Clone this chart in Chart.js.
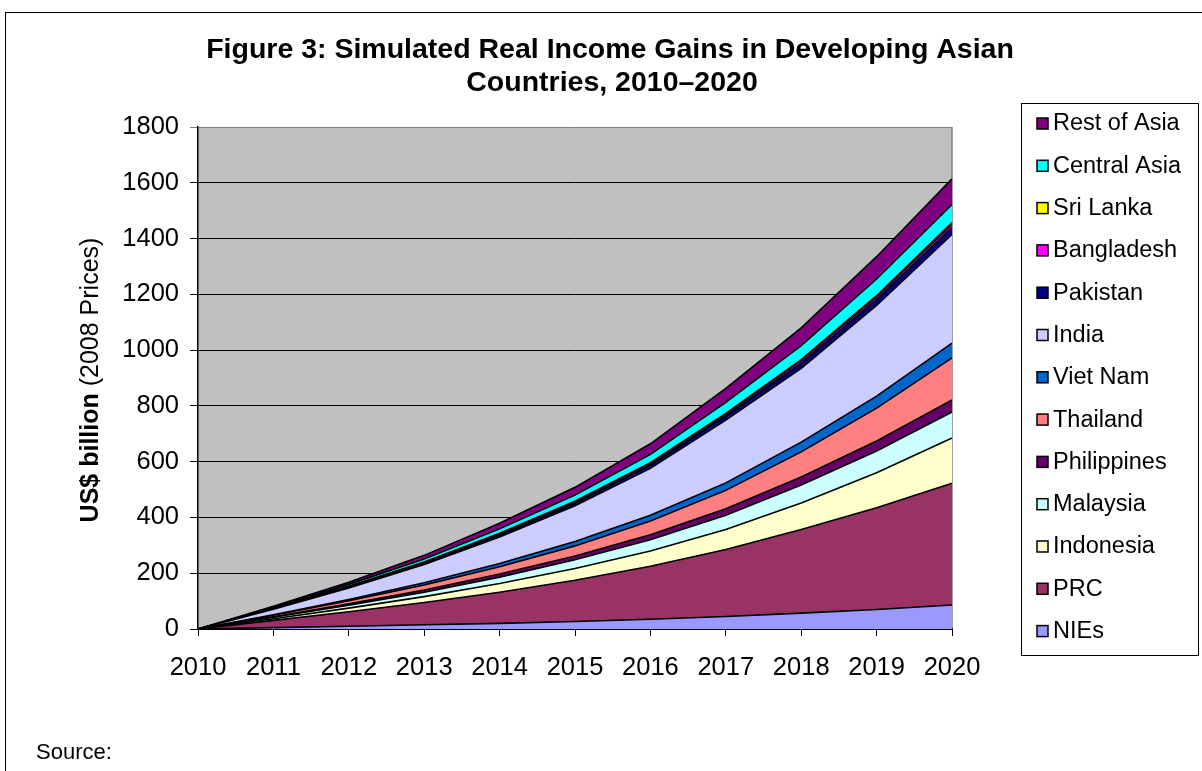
<!DOCTYPE html>
<html>
<head>
<meta charset="utf-8">
<script src="https://cdn.jsdelivr.net/npm/chart.js@4.4.1/dist/chart.umd.min.js"></script>
<style>
  html, body { margin: 0; padding: 0; background: #ffffff; }
  #wrap { width: 1202px; height: 771px; position: relative; }
  canvas { display: block; }
</style>
</head>
<body>
<div id="wrap"><canvas id="c" width="1202" height="771"></canvas></div>
<script>
// ---- Data (US$ billion, 2008 prices) ----
const years = ['2010','2011','2012','2013','2014','2015','2016','2017','2018','2019','2020'];
const yTicks = [0, 200, 400, 600, 800, 1000, 1200, 1400, 1600, 1800];

const nies        = [0, 5,   10, 15, 20,  27,  35,  45,  57,  70,  86];
const prc         = [0, 26,  52, 80, 112, 148, 190, 240, 300, 365, 437];
const indonesia   = [0, 6,   13, 21, 31,  42,  55,  72,  95,  125, 162];
const malaysia    = [0, 5,   10, 16, 23,  31,  40,  51,  64,  78,  93];
const philippines = [0, 2,   5,  8,  11,  14,  18,  23,  29,  36,  43];
const thailand    = [0, 5,   11, 18, 26,  36,  49,  66,  90,  118, 151];
const vietnam     = [0, 2,   5,  8,  12,  16,  21,  27,  35,  43,  53];
const india       = [0, 20,  41, 65, 95,  128, 168, 225, 265, 325, 390];
const pakistan    = [0, 2,   3,  5,  7,   9,   11,  14,  18,  21,  25];
const bangladesh  = [0, 1,   2,  3,  4,   5,   6,   7,   9,   10,  12];
const srilanka    = [0, 0.5, 1,  1,  2,   2,   3,   3,   4,   4,   5];
const centralAsia = [0, 3,   7,  11, 16,  22,  30,  40,  50,  60,  65];
const restOfAsia  = [0, 4,   8,  13, 20,  28,  38,  50,  64,  80,  92];

const seriesNames = ['NIEs','PRC','Indonesia','Malaysia','Philippines','Thailand','Viet Nam','India','Pakistan','Bangladesh','Sri Lanka','Central Asia','Rest of Asia'];
const seriesData  = [nies, prc, indonesia, malaysia, philippines, thailand, vietnam, india, pakistan, bangladesh, srilanka, centralAsia, restOfAsia];
const seriesColors = ['#9999FF','#993366','#FFFFCC','#CCFFFF','#660066','#FF8080','#0066CC','#CCCCFF','#000080','#FF00FF','#FFFF00','#00FFFF','#800080'];

const FONT = "'Liberation Sans', Arial, Helvetica, sans-serif";
Chart.defaults.font.family = FONT;
Chart.defaults.color = '#000000';

const datasets = seriesNames.map((name, i) => ({
  label: name,
  data: seriesData[i],
  backgroundColor: seriesColors[i],
  borderColor: '#000000',
  borderWidth: 1.6,
  pointRadius: 0,
  pointHoverRadius: 0,
  tension: 0,
  fill: i === 0 ? 'origin' : '-1'
}));

const decor = {
  id: 'decor',
  beforeDraw(chart) {
    const ctx = chart.ctx, a = chart.chartArea;
    ctx.save();
    ctx.fillStyle = '#ffffff';
    ctx.fillRect(0, 0, chart.width, chart.height);
    // outer frame
    ctx.strokeStyle = '#000000';
    ctx.lineWidth = 1;
    ctx.strokeRect(5.5, 12.5, 1300, 900);
    // plot background
    ctx.fillStyle = '#C0C0C0';
    ctx.fillRect(a.left, a.top, a.right - a.left, a.bottom - a.top);
    // plot border (grey)
    ctx.strokeStyle = '#808080';
    ctx.lineWidth = 1.5;
    ctx.beginPath();
    ctx.moveTo(a.right, a.bottom);
    ctx.lineTo(a.right, a.top);
    ctx.stroke();
    ctx.restore();
  },
  afterDraw(chart) {
    const ctx = chart.ctx, a = chart.chartArea;
    ctx.save();
    ctx.fillStyle = '#000000';
    // title
    ctx.font = 'bold 28.5px ' + FONT;
    ctx.textAlign = 'center';
    ctx.textBaseline = 'middle';
    ctx.fillText('Figure 3: Simulated Real Income Gains in Developing Asian', 610, 50);
    ctx.fillText('Countries, 2010\u20132020', 612, 83);

    // y axis title (mixed weights)
    ctx.save();
    ctx.translate(91, 380);
    ctx.rotate(-Math.PI / 2);
    const p1 = 'US$ billion ', p2 = '(2008 Prices)';
    ctx.font = 'bold 25px ' + FONT;
    const w1 = ctx.measureText(p1).width;
    ctx.font = '25px ' + FONT;
    const w2 = ctx.measureText(p2).width;
    let x0 = -(w1 + w2) / 2;
    ctx.textAlign = 'left';
    ctx.font = 'bold 25px ' + FONT;
    ctx.fillText(p1, x0, 0);
    ctx.font = '25px ' + FONT;
    ctx.fillText(p2, x0 + w1, 0);
    ctx.restore();

    // legend
    const lx = 1021, ly = 103, lw = 177, lh = 552;
    ctx.fillStyle = '#ffffff';
    ctx.fillRect(lx, ly, lw, lh);
    ctx.strokeStyle = '#000000';
    ctx.lineWidth = 1;
    ctx.strokeRect(lx + 0.5, ly + 0.5, lw, lh);
    ctx.font = '23.5px ' + FONT;
    ctx.textAlign = 'left';
    ctx.textBaseline = 'middle';
    const n = chart.data.datasets.length;
    for (let k = 0; k < n; k++) {
      const ds = chart.data.datasets[n - 1 - k];
      const cy = 124 + k * 42.3;
      ctx.fillStyle = ds.backgroundColor;
      ctx.fillRect(1037, cy - 6, 11, 11);
      ctx.strokeStyle = '#000000';
      ctx.lineWidth = 1.5;
      ctx.strokeRect(1037, cy - 6, 11, 11);
      ctx.fillStyle = '#000000';
      ctx.fillText(ds.label, 1053, cy);
    }

    // source
    ctx.font = '22px ' + FONT;
    ctx.textAlign = 'left';
    ctx.fillText('Source:', 36, 753);
    ctx.restore();
  }
};

new Chart(document.getElementById('c'), {
  type: 'line',
  data: { labels: years, datasets },
  options: {
    responsive: false,
    animation: false,
    events: [],
    layout: { padding: { left: 0, top: 127, right: 250, bottom: 0 } },
    plugins: {
      legend: { display: false },
      title: { display: false },
      tooltip: { enabled: false },
      filler: { propagate: false }
    },
    scales: {
      x: {
        type: 'category',
        offset: false,
        grid: { drawOnChartArea: false, drawTicks: true, tickLength: 7, color: '#000000', lineWidth: 1 },
        border: { display: true, color: '#000000', width: 1.5 },
        ticks: { font: { size: 25.5 }, color: '#000000', padding: 17, maxRotation: 0, autoSkip: false },
        afterFit(s) { s.height = 771 - 629; }
      },
      y: {
        stacked: true,
        min: 0,
        max: 1800,
        afterBuildTicks(s) { s.ticks = yTicks.map(v => ({ value: v })); },
        grid: { color: (c) => (c.tick && c.tick.value === 1800) ? '#808080' : '#000000', lineWidth: 1, tickLength: 8 },
        border: { display: true, color: '#000000', width: 1.5 },
        ticks: { font: { size: 25.5 }, color: '#000000', padding: 11, callback: (v) => String(v) },
        afterFit(s) { s.width = 198; }
      }
    }
  },
  plugins: [decor]
});
</script>
</body>
</html>
